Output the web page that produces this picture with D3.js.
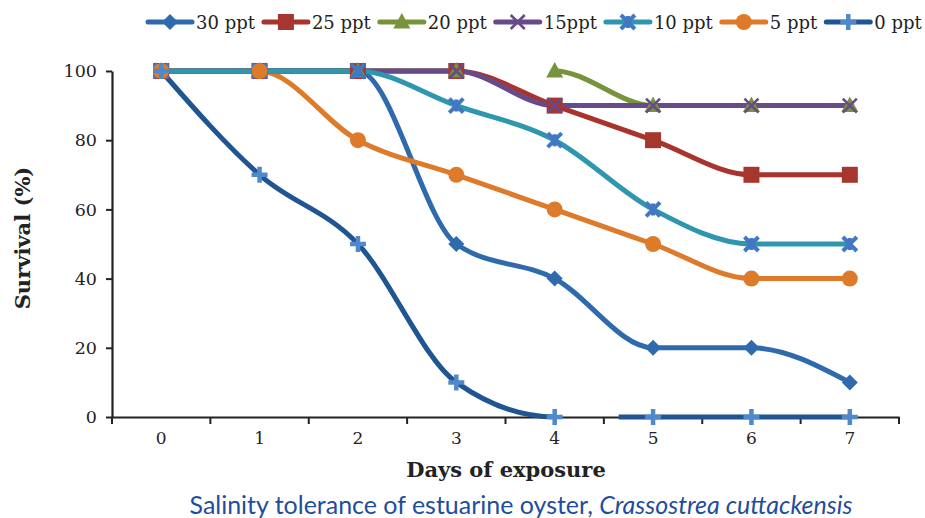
<!DOCTYPE html>
<html>
<head>
<meta charset="utf-8">
<script src="https://cdn.jsdelivr.net/npm/d3@7"></script>
<style>
  html, body { margin: 0; padding: 0; background: #ffffff; }
  svg { display: block; }
</style>
</head>
<body>
<svg id="chart" width="925" height="518"></svg>
<script>
// ---------------- data ----------------
const days = [0, 1, 2, 3, 4, 5, 6, 7];
const seriesNames = ["30 ppt", "25 ppt", "20 ppt", "15ppt", "10 ppt", "5 ppt", "0 ppt"];
const ppt30 = [100, 100, 100, 50, 40, 20, 20, 10];
const ppt25 = [100, 100, 100, 100, 90, 80, 70, 70];
const ppt20 = [100, 100, 100, 100, 100, 90, 90, 90];
const ppt15 = [100, 100, 100, 100, 90, 90, 90, 90];
const ppt10 = [100, 100, 100, 90, 80, 60, 50, 50];
const ppt5  = [100, 100, 80, 70, 60, 50, 40, 40];
const ppt0  = [100, 70, 50, 10, 0, 0, 0, 0];
const yTicks = [0, 20, 40, 60, 80, 100];
// missing stretches of line (in days) seen in the picture
const gap20 = [3, 4];
const gap0 = [4, 4.65];

const xTitle = "Days of exposure";
const yTitle = "Survival (%)";
const captionMain = "Salinity tolerance of estuarine oyster, ";
const captionItalic = "Crassostrea cuttackensis";

// ---------------- styles ----------------
const styles = [
  { line: "#2f6aad", mark: "#2f6aad", shape: "diamond" },
  { line: "#a9332d", mark: "#a5372f", shape: "square" },
  { line: "#77933c", mark: "#77933c", shape: "triangle" },
  { line: "#674a8a", mark: "#674a8a", shape: "x" },
  { line: "#2e96ae", mark: "#4277c3", shape: "star" },
  { line: "#dd7b2a", mark: "#dd7b2a", shape: "circle" },
  { line: "#1f5590", mark: "#4f89cc", shape: "plus" }
];
const values = [ppt30, ppt25, ppt20, ppt15, ppt10, ppt5, ppt0];
const gaps = [null, null, gap20, null, null, null, gap0];
const series = seriesNames.map((n, i) => ({
  name: n, values: values[i], gap: gaps[i], ...styles[i]
}));

// ---------------- layout ----------------
const svg = d3.select("#chart");
const plot = { left: 112, right: 899, top: 71, bottom: 417 };

const xBand = d3.scaleBand().domain(days).range([plot.left, plot.right]).padding(0);
const xc = d => xBand(d) + xBand.bandwidth() / 2;
const xLin = d3.scaleLinear().domain([days[0], days[days.length - 1]])
  .range([xc(days[0]), xc(days[days.length - 1])]);
const y = d3.scaleLinear().domain([0, 100]).range([plot.bottom, plot.top]);

const serif = "'DejaVu Serif', serif";

// ---------------- axes ----------------
const yAxis = svg.append("g")
  .attr("transform", `translate(${plot.left},0)`)
  .call(d3.axisLeft(y).tickValues(yTicks).tickSize(6).tickPadding(9).tickSizeOuter(0));
yAxis.select(".domain").attr("stroke", "#222").attr("stroke-width", 2.2);
yAxis.selectAll(".tick line").attr("stroke", "#222").attr("stroke-width", 2);
yAxis.selectAll(".tick text").attr("font-family", serif).attr("font-size", 17.5).attr("fill", "#222");

const xAxis = svg.append("g")
  .attr("transform", `translate(0,${plot.bottom})`)
  .call(d3.axisBottom(xBand).tickSize(0).tickPadding(15).tickSizeOuter(0));
xAxis.select(".domain").attr("stroke", "#222").attr("stroke-width", 2.2);
xAxis.selectAll(".tick text").attr("font-family", serif).attr("font-size", 17).attr("fill", "#222");

// boundary ticks between categories
const bounds = days.map(d => xBand(d)).concat([xBand.range()[1]]);
xAxis.selectAll("line.bound").data(bounds).enter().append("line")
  .attr("class", "bound")
  .attr("x1", d => d).attr("x2", d => d)
  .attr("y1", 0).attr("y2", 7)
  .attr("stroke", "#222").attr("stroke-width", 2);

// axis titles
svg.append("text")
  .attr("x", 506)
  .attr("y", 477)
  .attr("text-anchor", "middle")
  .attr("font-family", serif).attr("font-weight", "bold").attr("font-size", 21)
  .attr("fill", "#222")
  .text(xTitle);

svg.append("text")
  .attr("transform", `translate(30,238) rotate(-90)`)
  .attr("text-anchor", "middle")
  .attr("font-family", serif).attr("font-weight", "bold").attr("font-size", 21)
  .attr("fill", "#222")
  .text(yTitle);

// caption
const cap = svg.append("text")
  .attr("x", 521).attr("y", 514)
  .attr("text-anchor", "middle")
  .attr("font-family", "Lato, 'Open Sans', sans-serif").attr("font-size", 22)
  .attr("fill", "#1f4d9e");
cap.append("tspan").text(captionMain);
cap.append("tspan").attr("font-style", "italic").text(captionItalic);
const capW = cap.node().getComputedTextLength();
cap.attr("font-size", 22 * 663 / capW);

// ---------------- lines ----------------
const lineGen = d3.line()
  .x((d, i) => xc(days[i]))
  .y(d => y(d))
  .curve(d3.curveMonotoneX);

const defs = svg.append("defs");
series.forEach((s, i) => {
  if (s.gap) {
    const cp = defs.append("clipPath").attr("id", "gap" + i);
    cp.append("rect").attr("x", 0).attr("y", 0)
      .attr("width", xLin(s.gap[0])).attr("height", 518);
    cp.append("rect").attr("x", xLin(s.gap[1])).attr("y", 0)
      .attr("width", 925 - xLin(s.gap[1])).attr("height", 518);
  }
});

const drawOrder = [0, 1, 2, 5, 3, 4, 6];
const linesG = svg.append("g");
drawOrder.forEach(i => {
  const s = series[i];
  const p = linesG.append("path")
    .attr("d", lineGen(s.values))
    .attr("fill", "none")
    .attr("stroke", s.line)
    .attr("stroke-width", 5)
    .attr("stroke-linecap", "round")
    .attr("stroke-linejoin", "round");
  if (s.gap) p.attr("clip-path", `url(#gap${i})`);
});

// ---------------- markers ----------------
function drawMarker(g, shape, color, cx, cy) {
  const m = g.append("g").attr("transform", `translate(${cx},${cy})`);
  if (shape === "diamond") {
    m.append("path").attr("d", "M0,-8L8,0L0,8L-8,0Z").attr("fill", color);
  } else if (shape === "square") {
    m.append("rect").attr("x", -8).attr("y", -8).attr("width", 16).attr("height", 16)
      .attr("fill", color);
  } else if (shape === "triangle") {
    m.append("path").attr("d", "M0,-9L8.5,6.5L-8.5,6.5Z").attr("fill", color);
  } else if (shape === "x") {
    m.append("path").attr("d", "M-7,-7L7,7M-7,7L7,-7")
      .attr("stroke", color).attr("stroke-width", 2.6).attr("fill", "none");
  } else if (shape === "star") {
    m.append("path").attr("d", "M-7,-7L7,7M-7,7L7,-7M0,-6L0,6")
      .attr("stroke", color).attr("stroke-width", 4).attr("fill", "none");
  } else if (shape === "circle") {
    m.append("circle").attr("r", 8).attr("fill", color);
  } else if (shape === "plus") {
    m.append("path").attr("d", "M-8,0L8,0M0,-8L0,8")
      .attr("stroke", color).attr("stroke-width", 4.5).attr("fill", "none");
  }
}

const marksG = svg.append("g");
series.forEach(s => {
  s.values.forEach((v, i) => drawMarker(marksG, s.shape, s.mark, xc(days[i]), y(v)));
});

// ---------------- legend ----------------
const legend = svg.append("g");
let lx = 148;
const ly = 22;
series.forEach(s => {
  legend.append("line")
    .attr("x1", lx).attr("x2", lx + 44).attr("y1", ly).attr("y2", ly)
    .attr("stroke", s.line).attr("stroke-width", 5).attr("stroke-linecap", "round");
  drawMarker(legend, s.shape, s.mark, lx + 22, ly);
  const t = legend.append("text")
    .attr("x", lx + 48).attr("y", ly + 6.5)
    .attr("font-family", serif).attr("font-size", 18).attr("fill", "#222")
    .text(s.name);
  lx = lx + 48 + t.node().getComputedTextLength() + 9;
});
</script>
</body>
</html>
